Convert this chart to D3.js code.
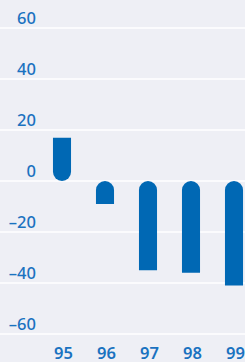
<!DOCTYPE html>
<html>
<head>
<meta charset="utf-8">
<script src="https://cdn.jsdelivr.net/npm/d3@7"></script>
<style>
  html, body { margin: 0; padding: 0; background: #eeeff5; }
  svg { display: block; font-family: "Noto Sans", "Open Sans", sans-serif; }
</style>
</head>
<body>
<div id="chart"></div>
<script>
const years = ['95', '96', '97', '98', '99'];
const values = [17, -9, -35, -36, -41];
const yTicks = [-60, -40, -20, 0, 20, 40, 60];

const width = 245;
const height = 362;
const textColor = '#1a72c0';
const barColor = '#0068b4';

const svg = d3.select('#chart')
  .append('svg')
  .attr('width', width)
  .attr('height', height);

svg.append('rect')
  .attr('width', width)
  .attr('height', height)
  .attr('fill', '#eeeff5');

const yScale = d3.scaleLinear()
  .domain([-60, 60])
  .range([334, 28]);

const xScale = d3.scaleBand()
  .domain(years)
  .range([40.5, 255.5])
  .paddingInner(0.58)
  .paddingOuter(0.29);

// gridlines
svg.append('g')
  .selectAll('line')
  .data(yTicks)
  .join('line')
  .attr('x1', 0)
  .attr('x2', width)
  .attr('y1', d => yScale(d))
  .attr('y2', d => yScale(d))
  .attr('stroke', '#ffffff')
  .attr('stroke-width', 1.5);

// y labels sit just above their gridline
svg.append('g')
  .selectAll('text')
  .data(yTicks)
  .join('text')
  .attr('x', 36)
  .attr('y', d => yScale(d) - 4)
  .attr('text-anchor', 'end')
  .attr('fill', textColor)
  .attr('font-size', '16.5px')
  .attr('font-weight', 500)
  .text(d => (d < 0 ? '\u2013' + Math.abs(d) : String(d)));

// bars, rounded at the zero end
function barPath(v, x, w) {
  const r = w / 2;
  const y0 = yScale(0);
  const y1 = yScale(v);
  if (v >= 0) {
    return `M${x},${y1} H${x + w} V${y0 - r} A${r},${r} 0 0 1 ${x},${y0 - r} Z`;
  }
  return `M${x},${y1} V${y0 + r} A${r},${r} 0 0 1 ${x + w},${y0 + r} V${y1} Z`;
}

svg.append('g')
  .selectAll('path')
  .data(values)
  .join('path')
  .attr('d', (d, i) => barPath(d, xScale(years[i]), xScale.bandwidth()))
  .attr('fill', barColor);

// x labels
svg.append('g')
  .selectAll('text')
  .data(years)
  .join('text')
  .attr('x', d => xScale(d) + xScale.bandwidth() / 2 + 1.5)
  .attr('y', 359)
  .attr('text-anchor', 'middle')
  .attr('fill', textColor)
  .attr('font-size', '16.5px')
  .attr('font-weight', 600)
  .text(d => d);
</script>
</body>
</html>
